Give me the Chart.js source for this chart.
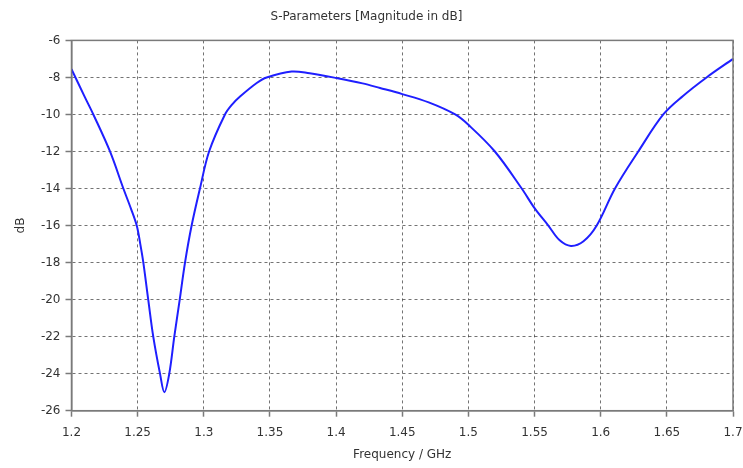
<!DOCTYPE html>
<html>
<head>
<meta charset="utf-8">
<script src="https://cdn.jsdelivr.net/npm/chart.js@4/dist/chart.umd.min.js"></script>
<style>
  html, body { margin: 0; padding: 0; background: #fff; }
  #wrap { width: 743px; height: 468px; }
</style>
</head>
<body>
<div id="wrap"><canvas id="sParam"></canvas></div>
<script>
// S11 (GHz / dB)
const freqGHz = [1.200, 1.210, 1.2165, 1.2291, 1.2392, 1.2450, 1.2493, 1.2520, 1.2543, 1.2580,
  1.2618, 1.2669, 1.2702, 1.2739, 1.2777, 1.2818, 1.2858, 1.2908, 1.2971, 1.3040,
  1.3160, 1.3215, 1.3274, 1.3400, 1.3475, 1.3664, 1.380, 1.400, 1.420, 1.4332,
  1.450, 1.470, 1.490, 1.500, 1.520, 1.5403, 1.550, 1.5604, 1.569, 1.5775,
  1.587, 1.597, 1.6108, 1.6284, 1.6473, 1.6622, 1.680, 1.700];
const s11dB = [-7.55, -9.05, -10.0, -12.0, -14.0, -15.1, -16.0, -17.0, -18.0, -20.0,
  -22.0, -24.0, -25.0, -24.0, -22.0, -20.0, -18.0, -16.0, -14.0, -12.0,
  -10.0, -9.45, -9.03, -8.3, -8.0, -7.68, -7.78, -8.03, -8.32, -8.57,
  -8.9, -9.35, -10.0, -10.56, -12.0, -14.0, -15.06, -16.0, -16.8, -17.1,
  -16.85, -16.0, -14.0, -12.0, -10.0, -9.0, -8.0, -7.0];

const xTickValues = [1.2, 1.25, 1.3, 1.35, 1.4, 1.45, 1.5, 1.55, 1.6, 1.65, 1.7];
const yTickValues = [-26, -24, -22, -20, -18, -16, -14, -12, -10, -8, -6];

const points = freqGHz.map((f, i) => ({ x: f, y: s11dB[i] }));

// frame round the plot area (top and right sides too)
const frame = {
  id: 'frame',
  afterDraw(chart) {
    const { ctx, chartArea: a } = chart;
    ctx.save();
    ctx.strokeStyle = '#7a7a7a';
    ctx.lineWidth = 1.5;
    ctx.strokeRect(a.left, a.top, a.right - a.left, a.bottom - a.top);
    ctx.restore();
  }
};

const font = { family: 'DejaVu Sans', size: 12 };

new Chart(document.getElementById('sParam'), {
  type: 'line',
  data: {
    datasets: [{
      data: points,
      borderColor: '#1f1fff',
      borderWidth: 2,
      pointRadius: 0,
      tension: 0.35,
      fill: false
    }]
  },
  options: {
    responsive: true,
    maintainAspectRatio: false,
    animation: false,
    layout: { padding: { left: 0, right: 10, top: 0, bottom: 0 } },
    plugins: {
      legend: { display: false },
      tooltip: { enabled: false },
      title: {
        display: true,
        text: 'S-Parameters [Magnitude in dB]',
        color: '#333',
        font: { family: 'DejaVu Sans', size: 12, weight: 'normal' },
        padding: { top: 10, bottom: 16 }
      }
    },
    scales: {
      x: {
        type: 'linear',
        min: 1.2,
        max: 1.7,
        afterBuildTicks: s => { s.ticks = xTickValues.map(v => ({ value: v })); },
        afterFit: s => { s.height = 57.3; s.paddingRight = 0; s.paddingLeft = 0; },
        ticks: {
          color: '#333', font, padding: 9, maxRotation: 0,
          callback: v => String(+v.toFixed(2))
        },
        grid: {
          color: 'rgba(0,0,0,0.55)', lineWidth: 1,
          tickLength: 6, tickColor: '#7a7a7a', tickBorderDash: [], tickWidth: 1.5
        },
        border: { color: '#7a7a7a', width: 1.5, dash: [3, 3] },
        title: { display: true, text: 'Frequency / GHz', color: '#333', font, padding: { top: 4, bottom: 6 } }
      },
      y: {
        min: -26,
        max: -6,
        afterBuildTicks: s => { s.ticks = yTickValues.map(v => ({ value: v })); },
        afterFit: s => { s.width = 71.5; },
        ticks: { color: '#333', font, padding: 5 },
        grid: {
          color: 'rgba(0,0,0,0.55)', lineWidth: 1,
          tickLength: 6, tickColor: '#7a7a7a', tickBorderDash: [], tickWidth: 1.5
        },
        border: { color: '#7a7a7a', width: 1.5, dash: [3, 3] },
        title: { display: true, text: 'dB', color: '#333', font, padding: { top: 14, bottom: 0 } }
      }
    }
  },
  plugins: [frame]
});
</script>
</body>
</html>
